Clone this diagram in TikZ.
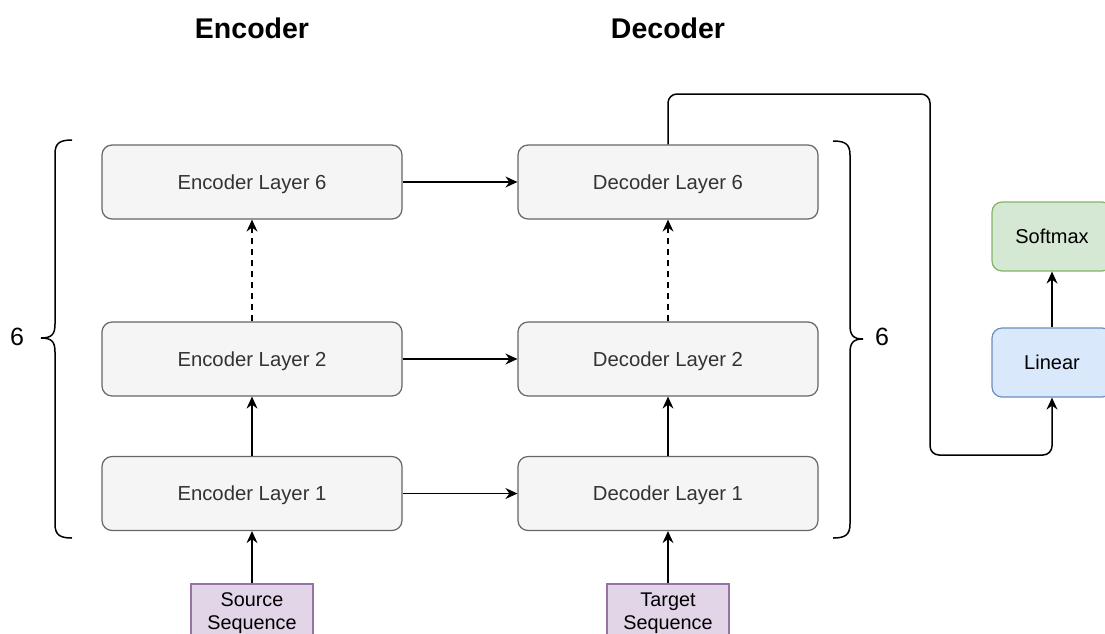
\documentclass[tikz,border=0pt]{standalone}
\usepackage{fontspec}
\setmainfont{Liberation Sans}
\usetikzlibrary{arrows.meta}
\definecolor{layerfill}{HTML}{F5F5F5}
\definecolor{layerdraw}{HTML}{666666}
\definecolor{layertext}{HTML}{333333}
\definecolor{seqfill}{HTML}{E1D5E7}
\definecolor{seqdraw}{HTML}{9673A6}
\definecolor{linfill}{HTML}{DAE8FC}
\definecolor{lindraw}{HTML}{6C8EBF}
\definecolor{smfill}{HTML}{D5E8D4}
\definecolor{smdraw}{HTML}{82B366}
\begin{document}
\begin{tikzpicture}[x=1pt,y=-1pt,
  layer/.style={draw=layerdraw, fill=layerfill, line width=1.2pt, rounded corners=10pt,
    minimum width=300pt, minimum height=74pt, inner sep=0pt, text=layertext,
    text depth=0pt, font=\fontsize{20.3}{24}\selectfont},
  seqbox/.style={draw=seqdraw, fill=seqfill, line width=1.2pt,
    minimum width=122pt, minimum height=58pt, inner sep=0pt, align=center,
    font=\fontsize{19.8}{23}\selectfont},
  headbox/.style={line width=1.2pt, rounded corners=10pt,
    minimum width=120pt, minimum height=69pt, inner sep=0pt, text depth=0pt,
    font=\fontsize{20}{24}\selectfont},
  title/.style={font=\fontsize{28.5}{33}\selectfont\bfseries},
  conn/.style={line width=1.5pt, -{Stealth[length=12pt,width=11pt,inset=4pt]}},
  brace/.style={line width=1.5pt},
  count/.style={font=\fontsize{25}{30}\selectfont}
]
\useasboundingbox (0,0) rectangle (1105,633);

\node[title] (enct) at (252,28) {Encoder};
\node[title] (dect) at (668,28) {Decoder};

\node[layer] (e6) at (252,182) {Encoder Layer 6};
\node[layer] (e2) at (252,359) {Encoder Layer 2};
\node[layer] (e1) at (252,493.5) {Encoder Layer 1};
\node[layer] (d6) at (668,182) {Decoder Layer 6};
\node[layer] (d2) at (668,359) {Decoder Layer 2};
\node[layer] (d1) at (668,493.5) {Decoder Layer 1};

\node[seqbox] (src) at (252,613) {Source\\Sequence};
\node[seqbox] (tgt) at (668,613) {Target\\Sequence};

\node[headbox, draw=smdraw, fill=smfill] (sm) at (1052,236.5) {Softmax};
\node[headbox, draw=lindraw, fill=linfill] (lin) at (1052,362.5) {Linear};

% vertical connectors
\draw[conn] (src.north) -- (e1.south);
\draw[conn] (e1.north) -- (e2.south);
\draw[conn, dashed, dash pattern=on 6pt off 5pt] (e2.north) -- (e6.south);
\draw[conn] (tgt.north) -- (d1.south);
\draw[conn] (d1.north) -- (d2.south);
\draw[conn, dashed, dash pattern=on 6pt off 5pt] (d2.north) -- (d6.south);

% horizontal connectors
\draw[conn] (e6.east) -- (d6.west);
\draw[conn] (e2.east) -- (d2.west);
\draw[conn] (e1.east) -- (d1.west);

% output path
\coordinate (c1) at (668,94);
\coordinate (c2) at (930,94);
\coordinate (c3) at (930,455);
\coordinate (c4) at (1052,455);
\draw[conn, rounded corners=9pt] (d6.north) -- (c1) -- (c2) -- (c3) -- (c4) -- (lin.south);
\draw[conn] (lin.north) -- (sm.south);

% left brace
\draw[brace] (72,140) .. controls (60,140) and (55,143) .. (55,154) -- (55,324)
  .. controls (55,334) and (52,338) .. (41,338)
  .. controls (52,338) and (55,342) .. (55,352) -- (55,524)
  .. controls (55,535) and (60,538) .. (72,538);
\node[count] (lc) at (17,337) {6};

% right brace
\draw[brace] (833,141) .. controls (845,141) and (850,144) .. (850,155) -- (850,325)
  .. controls (850,335) and (853,339) .. (863,339)
  .. controls (853,339) and (850,343) .. (850,353) -- (850,524)
  .. controls (850,535) and (845,538) .. (833,538);
\node[count] (rc) at (882,337) {6};
\end{tikzpicture}
\end{document}
